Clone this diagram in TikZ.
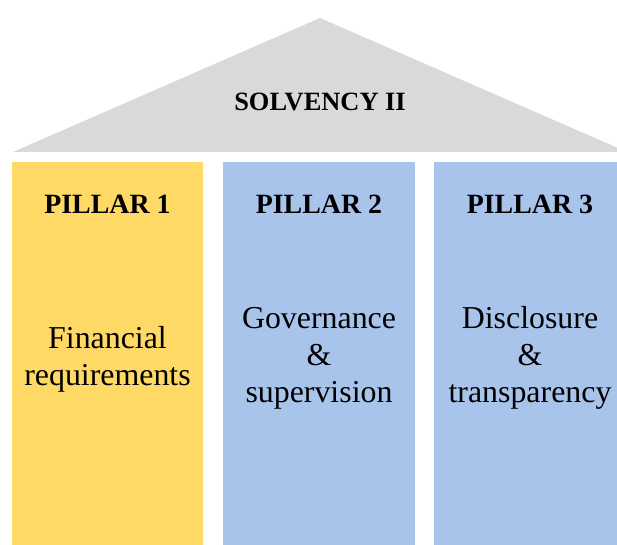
\documentclass[tikz,border=0pt]{standalone}
\usepackage{fontspec}
\setmainfont{Liberation Serif}
\definecolor{roofgray}{HTML}{D9D9D9}
\definecolor{pillargold}{HTML}{FFD966}
\definecolor{pillarblue}{HTML}{A9C4EB}
\tikzset{
  pillarbox/.style={fill=#1, draw=none},
  headtext/.style={font=\fontsize{28}{32}\selectfont\bfseries, anchor=base, inner sep=0pt},
  bodytext/.style={font=\fontsize{32}{37}\selectfont, align=center, anchor=base, inner sep=0pt},
  rooftext/.style={font=\fontsize{26.5}{30}\selectfont\bfseries, anchor=base, inner sep=0pt}
}
\begin{document}
\begin{tikzpicture}[x=1bp,y=-1bp]
\useasboundingbox (0,0) rectangle (617,545);
\clip (0,0) rectangle (617,545);
% roof
\fill[roofgray] (13,152) -- (320,18) -- (627,152) -- cycle;
\node[rooftext] (roof) at (320,111) {SOLVENCY II};
% pillars
\fill[pillarbox=pillargold] (12,162) rectangle (203,546);
\fill[pillarbox=pillarblue] (223,162) rectangle (415,546);
\fill[pillarbox=pillarblue] (434,162) rectangle (626,546);
\node[headtext] (h1) at (107.5,214) {PILLAR 1};
\node[headtext] (h2) at (319,214) {PILLAR 2};
\node[headtext] (h3) at (530,214) {PILLAR 3};
\node[bodytext] (b1) at (107.5,385) {Financial\\requirements};
\node[bodytext] (b2) at (319,402) {Governance\\\&\\supervision};
\node[bodytext] (b3) at (530,402) {Disclosure\\\&\\transparency};
\end{tikzpicture}
\end{document}
